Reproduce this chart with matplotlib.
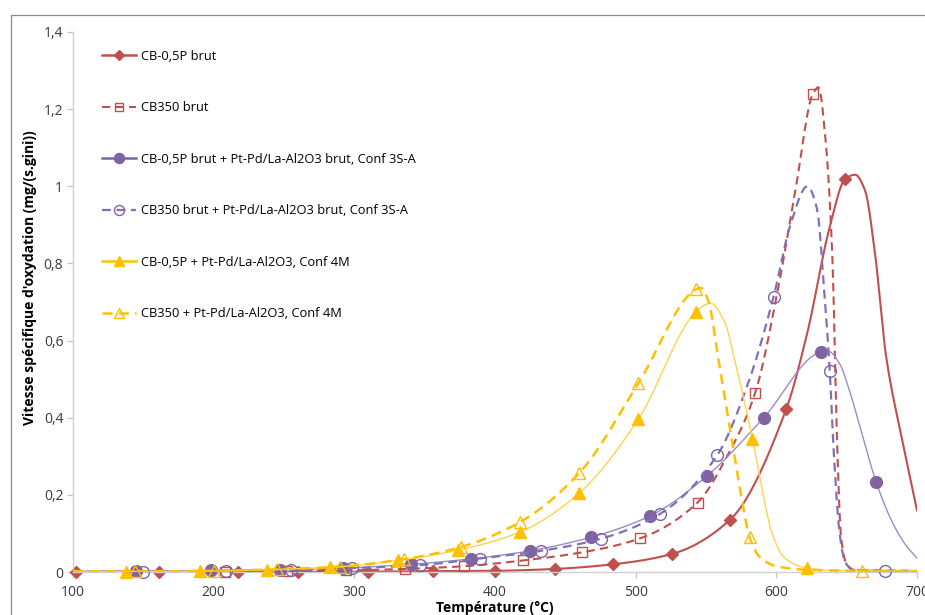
import matplotlib
matplotlib.use('Agg')
import matplotlib.pyplot as plt
from matplotlib.lines import Line2D
from matplotlib.patches import Rectangle
from matplotlib.ticker import FuncFormatter, MultipleLocator
import numpy as np

plt.rcParams['font.family'] = ['Open Sans', 'DejaVu Sans']

# ---- data (temperature in degC, rate in mg/(s.gini)) ----
labels = ['CB-0,5P brut',
          'CB350 brut',
          'CB-0,5P brut + Pt-Pd/La-Al2O3 brut, Conf 3S-A',
          'CB350 brut + Pt-Pd/La-Al2O3 brut, Conf 3S-A',
          'CB-0,5P + Pt-Pd/La-Al2O3, Conf 4M',
          'CB350 + Pt-Pd/La-Al2O3, Conf 4M']

# marker points
cb05_T = [102, 161, 217, 260, 310, 356, 400, 443, 484, 526, 567, 607, 649]
cb05_v = [0, 0, 0, 0, 0.001, 0.002, 0.003, 0.008, 0.02, 0.047, 0.135, 0.422, 1.019]
cb350_T = [208, 252, 294, 336, 378, 420, 462, 503, 544, 585, 626]
cb350_v = [0.001, 0.002, 0.004, 0.008, 0.015, 0.03, 0.051, 0.087, 0.18, 0.465, 1.24]
p05_T = [145, 198, 247, 292, 340, 383, 425, 468, 510, 551, 591, 632, 671]
p05_v = [0.002, 0.004, 0.006, 0.01, 0.02, 0.034, 0.055, 0.09, 0.145, 0.25, 0.40, 0.57, 0.233]
p350_T = [150, 209, 255, 298, 347, 389, 433, 475, 517, 558, 598, 638, 677]
p350_v = [0.001, 0.003, 0.005, 0.01, 0.018, 0.035, 0.055, 0.086, 0.15, 0.303, 0.713, 0.521, 0.003]
y05_T = [138, 190, 238, 283, 331, 374, 418, 460, 502, 543, 583, 622]
y05_v = [0.001, 0.002, 0.006, 0.012, 0.03, 0.057, 0.104, 0.205, 0.397, 0.674, 0.345, 0.01]
y350_T = [144, 200, 245, 290, 335, 376, 418, 460, 502, 543, 581, 661]
y350_v = [0.002, 0.003, 0.007, 0.014, 0.033, 0.065, 0.13, 0.257, 0.49, 0.733, 0.09, 0.003]

# points along the smoothed curves
cb05_cT = [100, 161, 217, 260, 310, 356, 400, 443, 484, 526, 567, 607, 622, 638, 649, 656, 663, 670, 678, 689, 700]
cb05_cv = [0, 0, 0, 0, 0.001, 0.002, 0.003, 0.008, 0.02, 0.047, 0.135, 0.422, 0.62, 0.895, 1.019, 1.03, 0.99, 0.83, 0.56, 0.35, 0.16]
cb350_cT = [100, 208, 252, 294, 336, 378, 420, 462, 503, 544, 565, 585, 601, 614, 626, 630, 635, 640, 643, 646, 650, 656, 700]
cb350_cv = [0, 0.001, 0.002, 0.004, 0.008, 0.015, 0.03, 0.051, 0.087, 0.18, 0.30, 0.465, 0.73, 1.0, 1.24, 1.257, 1.12, 0.8, 0.36, 0.09, 0.02, 0.005, 0.003]
p05_cT = [100, 145, 198, 247, 292, 340, 383, 425, 468, 510, 551, 591, 632, 637, 645, 652, 660, 671, 683, 692, 700]
p05_cv = [0.002, 0.002, 0.004, 0.006, 0.01, 0.02, 0.034, 0.055, 0.09, 0.145, 0.25, 0.40, 0.57, 0.572, 0.54, 0.47, 0.37, 0.233, 0.125, 0.07, 0.036]
p350_cT = [100, 150, 209, 255, 298, 347, 389, 433, 475, 517, 558, 580, 598, 610, 622, 629, 634, 638, 641, 645, 649, 655, 677, 700]
p350_cv = [0.001, 0.001, 0.003, 0.005, 0.01, 0.018, 0.035, 0.055, 0.086, 0.15, 0.303, 0.49, 0.713, 0.9, 1.0, 0.94, 0.73, 0.52, 0.3, 0.1, 0.025, 0.005, 0.003, 0.002]
y05_cT = [100, 138, 190, 238, 283, 331, 374, 418, 460, 502, 543, 553, 563, 572, 583, 588, 597, 605, 614, 622, 640, 700]
y05_cv = [0.001, 0.001, 0.002, 0.006, 0.012, 0.03, 0.057, 0.104, 0.205, 0.397, 0.674, 0.697, 0.65, 0.524, 0.345, 0.25, 0.10, 0.04, 0.018, 0.01, 0.004, 0.002]
y350_cT = [100, 144, 200, 245, 290, 335, 376, 418, 460, 502, 543, 546, 551, 560, 568, 576, 581, 588, 600, 620, 661, 700]
y350_cv = [0.002, 0.002, 0.003, 0.007, 0.014, 0.033, 0.065, 0.13, 0.257, 0.49, 0.733, 0.737, 0.71, 0.525, 0.35, 0.178, 0.09, 0.04, 0.015, 0.006, 0.003, 0.002]

red = '#C0504D'
purple = '#8064A2'
yellow = '#FFC000'


def smooth(x, y, n=600):
    # monotone cubic (pchip) through the read points, like the smoothed Excel line
    x = np.asarray(x, float)
    y = np.asarray(y, float)
    h = np.diff(x)
    d = np.diff(y) / h
    m = np.zeros_like(y)
    for k in range(1, len(x) - 1):
        if d[k - 1] * d[k] > 0:
            w1 = 2 * h[k] + h[k - 1]
            w2 = h[k] + 2 * h[k - 1]
            m[k] = (w1 + w2) / (w1 / d[k - 1] + w2 / d[k])
    m[0] = d[0]
    m[-1] = d[-1]
    xs = np.linspace(x[0], x[-1], n)
    i = np.clip(np.searchsorted(x, xs) - 1, 0, len(h) - 1)
    t = (xs - x[i]) / h[i]
    ys = ((2 * t**3 - 3 * t**2 + 1) * y[i] + (t**3 - 2 * t**2 + t) * h[i] * m[i]
          + (-2 * t**3 + 3 * t**2) * y[i + 1] + (t**3 - t**2) * h[i] * m[i + 1])
    return xs, ys


fig = plt.figure(figsize=(9.25, 6.15), dpi=100)
ax = fig.add_axes([73 / 925, 43 / 615, 844 / 925, 540 / 615])

dash = (0, (4, 2.5))
series = [
    (cb05_cT, cb05_cv, cb05_T, cb05_v, red, '-', 1.5, 'D', 6.5, red),
    (cb350_cT, cb350_cv, cb350_T, cb350_v, red, dash, 1.5, 's', 6.5, 'none'),
    (p05_cT, p05_cv, p05_T, p05_v, '#9C8CC4', '-', 1.0, 'o', 8.5, purple),
    (p350_cT, p350_cv, p350_T, p350_v, '#7F70B8', dash, 1.6, 'o', 8.5, 'none'),
    (y05_cT, y05_cv, y05_T, y05_v, '#FFD34D', '-', 1.0, '^', 9, yellow),
    (y350_cT, y350_cv, y350_T, y350_v, yellow, dash, 1.8, '^', 9, 'none'),
]

handles = []
for k, (cT, cv, mT, mv, lc, ls, lw, mk, ms, mfc) in enumerate(series):
    xs, ys = smooth(cT, cv)
    ax.plot(xs, ys, color=lc, ls=ls, lw=lw, zorder=2 + k)
    mec = purple if mk == 'o' else (yellow if mk == '^' else red)
    ax.plot(mT, mv, ls='none', marker=mk, ms=ms, mfc=mfc, mec=mec,
            mew=1.0, zorder=2 + k, clip_on=False)
    handles.append(Line2D([], [], color=lc if lw > 1.2 else mec, ls=ls,
                          lw=max(lw, 1.8) if ls == '-' else lw,
                          marker=mk, ms=ms * 0.85, mfc=mfc, mec=mec, mew=1.0))

ax.set_xlim(100, 700)
ax.set_ylim(0, 1.4)
ax.xaxis.set_major_locator(MultipleLocator(100))
ax.yaxis.set_major_locator(MultipleLocator(0.2))
ax.yaxis.set_major_formatter(FuncFormatter(lambda v, p: ('%g' % round(v, 1)).replace('.', ',')))

for s in ['top', 'right']:
    ax.spines[s].set_visible(False)
for s in ['left', 'bottom']:
    ax.spines[s].set_color('#D0D0D0')
    ax.spines[s].set_linewidth(1.0)
ax.tick_params(axis='both', colors='#C8C8C8', labelcolor='#3A3A3A',
               labelsize=10, length=4, width=1.0)
ax.tick_params(axis='x', pad=5)
ax.tick_params(axis='y', pad=3)

ax.legend(handles, labels, loc='upper left', bbox_to_anchor=(102 / 925, 1 - 50 / 615),
          bbox_transform=fig.transFigure, frameon=False, fontsize=9.3,
          handlelength=2.6, handletextpad=0.4, labelspacing=2.98,
          borderpad=0, borderaxespad=0)

fig.text(30 / 925, 1 - 278 / 615, "Vitesse spécifique d'oxydation (mg/(s.gini))",
         rotation=90, ha='center', va='center', fontsize=10, fontweight='bold')
fig.text(495 / 925, 1 - 608 / 615, 'Température (°C)', ha='center', va='center',
         fontsize=10, fontweight='bold')

# chart area border (cropped on the right and bottom)
fig.add_artist(Rectangle((11 / 925, -0.1), 1.2, 1.1 - 15 / 615 + 0.0,
                         transform=fig.transFigure, fill=False,
                         edgecolor='#8A8A8A', lw=0.9))

fig.savefig('out.png', dpi=100)
